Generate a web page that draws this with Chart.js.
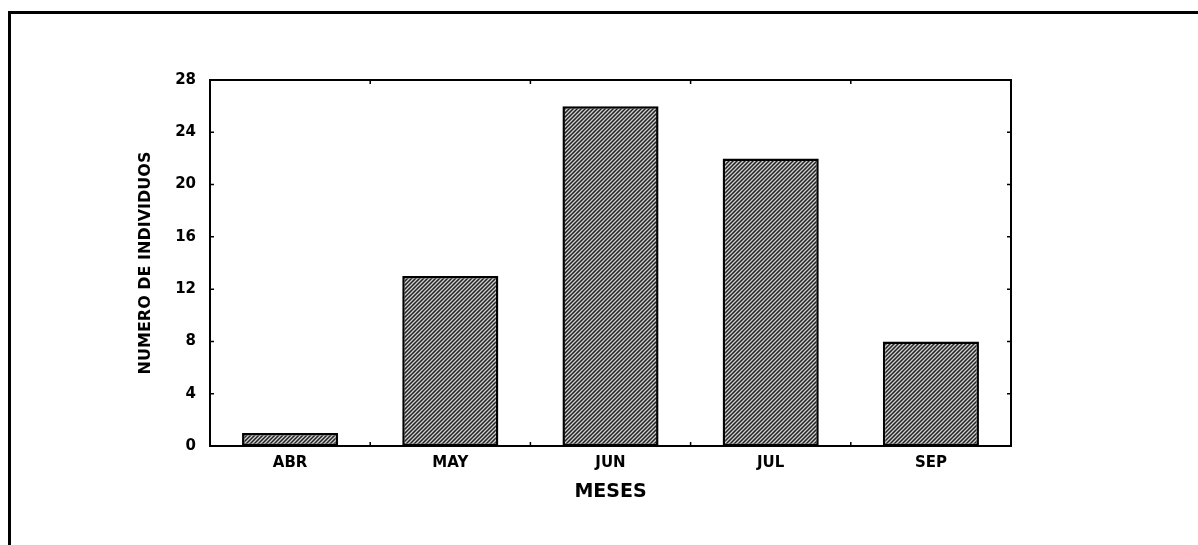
<!DOCTYPE html>
<html>
<head>
<meta charset="utf-8">
<script src="https://cdn.jsdelivr.net/npm/chart.js@4"></script>
<style>
  html, body { margin: 0; padding: 0; background: #fff; }
  #wrap { width: 1198px; height: 545px; position: relative; }
</style>
</head>
<body>
<div id="wrap"><canvas id="grafico"></canvas></div>
<script>
const meses = ['ABR', 'MAY', 'JUN', 'JUL', 'SEP'];
const individuos = [1, 13, 26, 22, 8];
const ticksY = [0, 4, 8, 12, 16, 20, 24, 28];

// rayado diagonal de las barras
function rayado() {
    const c = document.createElement('canvas');
    c.width = 4; c.height = 4;
    const g = c.getContext('2d');
    g.fillStyle = '#222';
    g.fillRect(0, 0, 4, 4);
    g.strokeStyle = '#d0d0d0';
    g.lineWidth = 1.3;
    g.beginPath();
    g.moveTo(-1, 5); g.lineTo(5, -1);
    g.moveTo(-1, 1); g.lineTo(1, -1);
    g.moveTo(3, 5); g.lineTo(5, 3);
    g.stroke();
    return g.createPattern(c, 'repeat');
}

// marco exterior, caja del grafico y marcas hacia dentro
const marcos = {
    id: 'marcos',
    afterDraw(chart) {
        const ctx = chart.ctx;
        const a = chart.chartArea;
        const x = chart.scales.x, y = chart.scales.y;
        ctx.save();
        ctx.strokeStyle = '#000';
        ctx.lineWidth = 3;
        ctx.beginPath();
        ctx.moveTo(1198, 12.5);
        ctx.lineTo(9.5, 12.5);
        ctx.lineTo(9.5, 545);
        ctx.stroke();

        ctx.lineWidth = 2;
        ctx.strokeRect(a.left, a.top, a.right - a.left, a.bottom - a.top);

        ctx.lineWidth = 1.5;
        ctx.beginPath();
        ticksY.forEach(v => {
            const py = y.getPixelForValue(v);
            ctx.moveTo(a.left, py); ctx.lineTo(a.left + 4, py);
            ctx.moveTo(a.right, py); ctx.lineTo(a.right - 4, py);
        });
        for (let i = 1; i < meses.length; i++) {
            const px = (x.getPixelForValue(i - 1) + x.getPixelForValue(i)) / 2;
            ctx.moveTo(px, a.bottom); ctx.lineTo(px, a.bottom - 4);
            ctx.moveTo(px, a.top); ctx.lineTo(px, a.top + 4);
        }
        ctx.stroke();
        ctx.restore();
    }
};

const fuente = '"DejaVu Sans", Arial, sans-serif';

new Chart(document.getElementById('grafico'), {
    type: 'bar',
    data: {
        labels: meses,
        datasets: [{
            data: individuos,
            backgroundColor: rayado(),
            borderColor: '#000',
            borderWidth: 2.5,
            borderSkipped: false,
            categoryPercentage: 1,
            barPercentage: 0.6
        }]
    },
    options: {
        responsive: true,
        maintainAspectRatio: false,
        animation: false,
        events: [],
        layout: { padding: { left: 130, top: 80, right: 187, bottom: 30 } },
        plugins: { legend: { display: false }, tooltip: { enabled: false } },
        scales: {
            x: {
                afterFit(s) { s.height = 69; },
                grid: { display: false, drawTicks: false },
                border: { display: false },
                ticks: { color: '#000', padding: 8, font: { family: fuente, size: 15, weight: 'bold' } },
                title: {
                    display: true, text: 'MESES', color: '#000',
                    padding: { top: 0, bottom: 12 },
                    font: { family: fuente, size: 19, weight: 'bold' }
                }
            },
            y: {
                min: 0, max: 28,
                afterFit(s) { s.width = 80; },
                afterBuildTicks(s) { s.ticks = ticksY.map(v => ({ value: v })); },
                grid: { display: false, drawTicks: false },
                border: { display: false },
                ticks: { color: '#000', padding: 14, font: { family: fuente, size: 15, weight: 'bold' } },
                title: {
                    display: true, text: 'NUMERO DE INDIVIDUOS', color: '#000',
                    padding: { top: 6, bottom: 0 },
                    font: { family: fuente, size: 16, weight: 'bold' }
                }
            }
        }
    },
    plugins: [marcos]
});
</script>
</body>
</html>
